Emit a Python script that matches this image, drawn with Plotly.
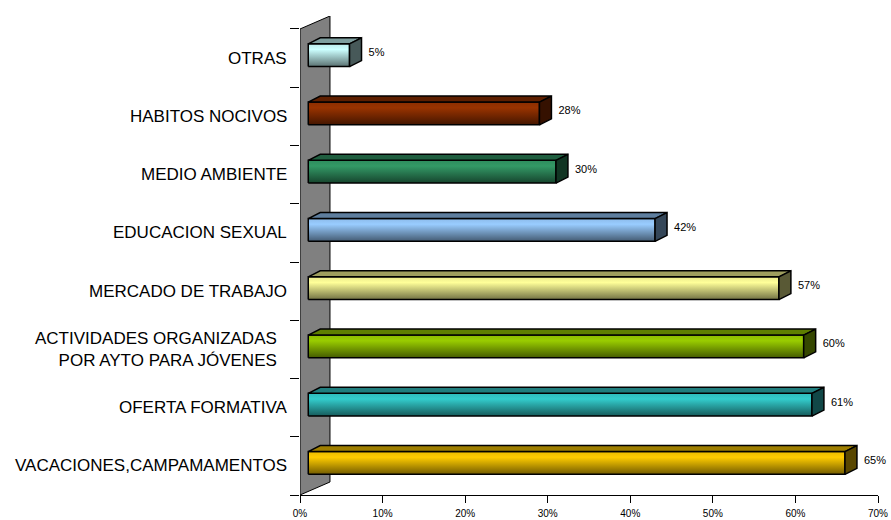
import plotly.graph_objects as go

# ---- data (bottom to top) ----
categories = ["VACACIONES,CAMPAMAMENTOS", "OFERTA FORMATIVA",
              "ACTIVIDADES ORGANIZADAS<br>POR AYTO PARA JÓVENES",
              "MERCADO DE TRABAJO", "EDUCACION SEXUAL", "MEDIO AMBIENTE",
              "HABITOS NOCIVOS", "OTRAS"]
values = [65, 61, 60, 57, 42, 30, 28, 5]
value_labels = ["65%", "61%", "60%", "57%", "42%", "30%", "28%", "5%"]
tick_values = [0, 10, 20, 30, 40, 50, 60, 70]
tick_labels = ["0%", "10%", "20%", "30%", "40%", "50%", "60%", "70%"]

# ---- styles ----
bar_colors = ["#ffcc00", "#33cccc", "#99cc00", "#ffff99", "#99ccff",
              "#339966", "#993300", "#ccffff"]
FONT = "Liberation Sans, Arial, sans-serif"

OFF = 1.0            # front face x offset (in % units)
DX, DY = 1.45, 0.103  # bar depth offset
H0, H1 = -0.145, 0.245
WDX, WDY = 3.63, 0.223  # wall depth


def shade(hexc, f):
    h = hexc.lstrip("#")
    r, g, b = (int(h[i:i + 2], 16) for i in (0, 2, 4))
    return "rgb(%d,%d,%d)" % (min(255, r * f), min(255, g * f), min(255, b * f))


fig = go.Figure()

# back wall
fig.add_trace(go.Scatter(
    x=[0, 0, WDX, WDX, 0], y=[-0.5, 7.5, 7.5 + WDY, -0.5 + WDY, -0.5],
    fill="toself", fillcolor="#808080", mode="lines",
    line=dict(color="#000000", width=1), hoverinfo="skip", showlegend=False))

for i, (v, c) in enumerate(zip(values, bar_colors)):
    x0, xr = OFF, OFF + v
    y0, y1 = i + H0, i + H1
    # front face with vertical gradient
    fig.add_trace(go.Scatter(
        x=[x0, xr, xr, x0, x0], y=[y0, y0, y1, y1, y0],
        fill="toself", mode="lines",
        fillgradient=dict(type="vertical",
                          colorscale=[[0, shade(c, 0.45)], [0.75, shade(c, 1.0)],
                                      [1, shade(c, 0.92)]]),
        line=dict(color="#000000", width=1.5), hoverinfo="skip", showlegend=False))
    # top face
    fig.add_trace(go.Scatter(
        x=[x0, xr, xr + DX, x0 + DX, x0], y=[y1, y1, y1 + DY, y1 + DY, y1],
        fill="toself", fillcolor=shade(c, 0.62), mode="lines",
        line=dict(color="#000000", width=1.5), hoverinfo="skip", showlegend=False))
    # side face
    fig.add_trace(go.Scatter(
        x=[xr, xr, xr + DX, xr + DX, xr], y=[y0, y1, y1 + DY, y0 + DY, y0],
        fill="toself", fillcolor=shade(c, 0.35), mode="lines",
        line=dict(color="#000000", width=1.5), hoverinfo="skip", showlegend=False))

# value labels
fig.add_trace(go.Scatter(
    x=[v + OFF + 2.3 for v in values], y=[i + 0.08 for i in range(len(values))],
    mode="text", text=value_labels, textposition="middle right",
    textfont=dict(family=FONT, size=11, color="#000000"),
    cliponaxis=False, hoverinfo="skip", showlegend=False))

# category labels
for i, cat in enumerate(categories):
    fig.add_annotation(
        x=0, y=i, xref="x", yref="y", text=cat, showarrow=False,
        xanchor="right", yanchor="middle", align="right",
        xshift=-11 if "<br>" not in cat else -21,
        font=dict(family=FONT, size=17, color="#000000"))

fig.update_layout(
    width=891, height=520,
    margin=dict(l=300, r=13, t=16, b=25, autoexpand=False),
    paper_bgcolor="white", plot_bgcolor="white",
    font=dict(family=FONT, color="#000000"),
    xaxis=dict(range=[0, 70], tickvals=tick_values, ticktext=tick_labels,
               showgrid=False, zeroline=False, showline=True, linecolor="#000000",
               linewidth=1, ticks="outside", ticklen=7, tickcolor="#000000",
               tickfont=dict(family=FONT, size=10, color="#000000"),
               ticklabelstandoff=2, fixedrange=True, automargin=False),
    yaxis=dict(range=[-0.5, 7.5 + WDY], tickvals=[k - 0.5 for k in range(9)],
               ticktext=[""] * 9, showgrid=False, zeroline=False, showline=False,
               ticks="outside", ticklen=9, tickcolor="#000000", fixedrange=True,
               automargin=False),
)

fig.write_html(
    "out.html",
    config={"displayModeBar": False},
    post_script="document.body.style.margin='0';document.body.style.overflow='hidden';",
)
